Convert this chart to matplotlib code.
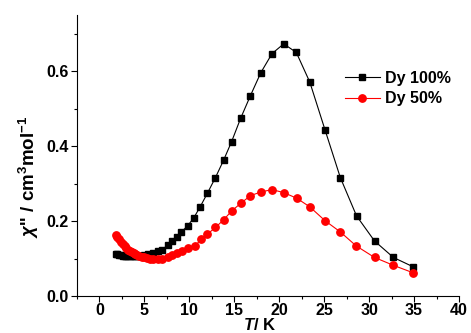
import matplotlib
matplotlib.use("Agg")
import matplotlib.pyplot as plt
from matplotlib.ticker import MultipleLocator

plt.rcParams['font.family'] = ['Liberation Sans', 'DejaVu Sans']
plt.rcParams['font.weight'] = 'bold'
plt.rcParams['mathtext.fontset'] = 'custom'
plt.rcParams['mathtext.rm'] = 'Liberation Sans:bold'
plt.rcParams['mathtext.it'] = 'Liberation Sans:italic:bold'
plt.rcParams['mathtext.bf'] = 'Liberation Sans:bold'

# Dy 100%
t100 = [1.8, 2.0, 2.2, 2.4, 2.6, 2.8, 3.0, 3.2, 3.4, 3.6, 3.8, 4.0, 4.3, 4.6, 5.0, 5.4,
        5.9, 6.5, 7.0, 7.6, 8.05, 8.6, 9.1, 9.8, 10.5, 11.2, 12.0, 12.9, 13.8, 14.7,
        15.7, 16.8, 17.95, 19.2, 20.5, 21.9, 23.4, 25.1, 26.8, 28.6, 30.6, 32.7, 34.9]
chi100 = [0.112, 0.111, 0.110, 0.109, 0.108, 0.107, 0.107, 0.106, 0.106, 0.106, 0.106,
          0.106, 0.107, 0.108, 0.110, 0.112, 0.114, 0.120, 0.124, 0.136, 0.147, 0.158,
          0.171, 0.187, 0.209, 0.238, 0.274, 0.316, 0.362, 0.412, 0.474, 0.535, 0.596,
          0.647, 0.673, 0.650, 0.571, 0.443, 0.316, 0.214, 0.147, 0.103, 0.078]

# Dy 50%
t50 = [1.8, 2.0, 2.2, 2.4, 2.6, 2.8, 3.0, 3.2, 3.4, 3.6, 3.8, 4.0, 4.2, 4.4, 4.7, 5.0,
       5.3, 5.6, 6.0, 6.5, 7.0, 7.6, 8.05, 8.6, 9.2, 9.8, 10.6, 11.3, 12.0, 12.9, 13.8,
       14.7, 15.7, 16.8, 18.0, 19.2, 20.5, 21.95, 23.4, 25.1, 26.8, 28.55, 30.6, 32.7, 34.9]
chi50 = [0.162, 0.158, 0.152, 0.145, 0.139, 0.133, 0.128, 0.124, 0.120, 0.117, 0.114,
         0.112, 0.110, 0.108, 0.105, 0.103, 0.101, 0.100, 0.098, 0.098, 0.100, 0.103,
         0.109, 0.114, 0.120, 0.127, 0.133, 0.151, 0.165, 0.183, 0.203, 0.227, 0.247,
         0.268, 0.278, 0.284, 0.276, 0.261, 0.238, 0.201, 0.171, 0.134, 0.103, 0.082, 0.062]

fig = plt.figure(figsize=(4.71, 3.33), dpi=100)
ax = fig.add_axes([0.1635, 0.111, 0.811, 0.844])

ax.plot(t100, chi100, color='black', lw=0.8, marker='s', ms=4.8, mec='black', mfc='black',
        label='Dy 100%')
ax.plot(t50, chi50, color='red', lw=0.8, marker='o', ms=5.3, mec='red', mfc='red',
        label='Dy 50%')

ax.set_xlim(-2.5, 40)
ax.set_ylim(0, 0.75)
ax.xaxis.set_major_locator(MultipleLocator(5))
ax.xaxis.set_minor_locator(MultipleLocator(2.5))
ax.yaxis.set_minor_locator(MultipleLocator(0.1))
ax.set_yticks([0.0, 0.2, 0.4, 0.6])
ax.set_yticklabels(['0.0', '0.2', '0.4', '0.6'])

for s in ['top', 'right']:
    ax.spines[s].set_visible(False)
for s in ['left', 'bottom']:
    ax.spines[s].set_linewidth(0.8)

ax.tick_params(which='major', direction='out', length=4, width=0.8, labelsize=11.5, pad=2)
ax.tick_params(axis='x', which='major', pad=1)
ax.tick_params(which='minor', direction='out', length=2.5, width=0.8)
for lbl in ax.get_xticklabels() + ax.get_yticklabels():
    lbl.set_fontweight('bold')

ax.set_xlabel(r'$T$/ K', fontsize=12, fontweight='bold', va='bottom')
ax.xaxis.set_label_coords(0.479, -0.13)
ax.set_ylabel(r"$\chi$'' / cm$^3$mol$^{-1}$", fontsize=13.5, fontweight='bold')
ax.yaxis.set_label_coords(-0.095, 0.423)

leg = ax.legend(loc='upper left', bbox_to_anchor=(0.68, 0.83), frameon=False,
                prop={'size': 11.5, 'weight': 'bold'}, handlelength=2.2,
                handletextpad=0.3, labelspacing=0.35, borderpad=0)

fig.savefig('out.png', dpi=100)
